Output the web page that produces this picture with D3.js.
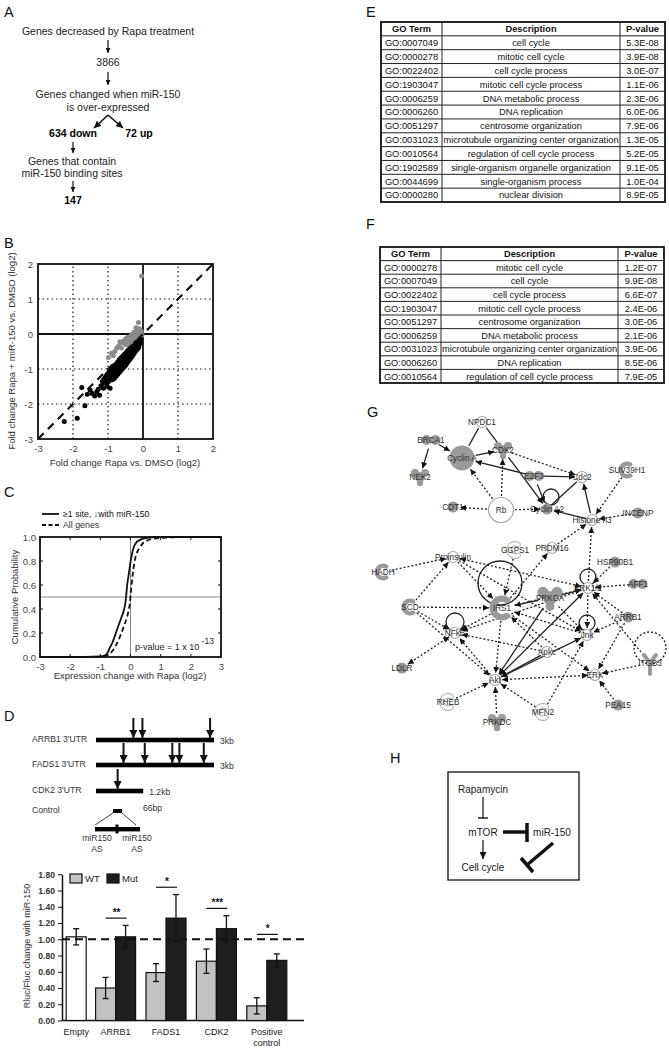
<!DOCTYPE html>
<html>
<head>
<meta charset="utf-8">
<script src="https://cdn.jsdelivr.net/npm/d3@7"></script>
<style>
  body { margin: 0; background: #fff; }
  svg { display: block; }
  text { font-family: "Liberation Sans", Arial, Helvetica, sans-serif; }
</style>
</head>
<body>
<svg id="fig" width="669" height="1050"></svg>
<script>
/*
 * Data
 */
// B: fold change Rapa vs DMSO (x) and Rapa + miR-150 vs DMSO (y), log2
var scatterBlack = [
  [-0.08,-0.14],[-0.08,-0.20],[-0.08,-0.27],
  [-0.12,-0.16],[-0.12,-0.24],[-0.12,-0.32],[-0.12,-0.38],
  [-0.16,-0.19],[-0.16,-0.27],[-0.16,-0.35],[-0.16,-0.43],
  [-0.20,-0.23],[-0.20,-0.31],[-0.20,-0.40],[-0.20,-0.48],
  [-0.24,-0.27],[-0.24,-0.36],[-0.24,-0.45],[-0.24,-0.53],
  [-0.28,-0.31],[-0.28,-0.40],[-0.28,-0.50],[-0.28,-0.59],
  [-0.32,-0.35],[-0.32,-0.45],[-0.32,-0.55],[-0.32,-0.65],
  [-0.36,-0.39],[-0.36,-0.49],[-0.36,-0.60],[-0.36,-0.71],
  [-0.40,-0.44],[-0.40,-0.54],[-0.40,-0.65],[-0.40,-0.76],
  [-0.44,-0.48],[-0.44,-0.59],[-0.44,-0.70],[-0.44,-0.81],
  [-0.48,-0.53],[-0.48,-0.64],[-0.48,-0.75],[-0.48,-0.87],
  [-0.52,-0.57],[-0.52,-0.68],[-0.52,-0.80],[-0.52,-0.92],
  [-0.56,-0.62],[-0.56,-0.73],[-0.56,-0.85],[-0.56,-0.96],
  [-0.60,-0.66],[-0.60,-0.78],[-0.60,-0.90],[-0.60,-1.01],
  [-0.64,-0.70],[-0.64,-0.83],[-0.64,-0.95],[-0.64,-1.06],
  [-0.68,-0.75],[-0.68,-0.88],[-0.68,-1.00],[-0.68,-1.10],
  [-0.72,-0.80],[-0.72,-0.92],[-0.72,-1.05],[-0.72,-1.15],
  [-0.76,-0.85],[-0.76,-0.97],[-0.76,-1.09],[-0.76,-1.19],
  [-0.80,-0.89],[-0.80,-1.02],[-0.80,-1.14],[-0.80,-1.24],
  [-0.84,-0.94],[-0.84,-1.07],[-0.84,-1.19],[-0.84,-1.28],
  [-0.88,-0.99],[-0.88,-1.12],[-0.88,-1.24],[-0.88,-1.31],
  [-0.92,-1.04],[-0.92,-1.17],[-0.92,-1.28],
  [-0.96,-1.08],[-0.96,-1.21],[-0.96,-1.33],
  [-1.00,-1.13],[-1.00,-1.26],[-1.00,-1.37],
  [-1.04,-1.18],[-1.04,-1.31],[-1.04,-1.42],
  [-1.08,-1.24],[-1.08,-1.36],
  [-1.12,-1.30],[-1.12,-1.40],
  [-1.16,-1.35],
  [-1.13,-1.55],[-0.94,-1.55],[-1.24,-1.75],[-1.32,-1.65],[-1.38,-1.77],
  [-1.51,-1.60],[-1.59,-1.72],[-1.75,-1.53],[-1.66,-2.05],[-1.88,-2.41],
  [-2.25,-2.50],[-1.20,-1.48],[-1.02,-1.50],[-1.45,-1.70],[-1.28,-1.58]
];
var scatterGrey = [
  [-0.04,1.66],[-0.13,0.33],[-0.20,0.18],[-0.10,0.15],[-0.15,0.10],
  [-0.25,0.05],[-0.05,0.08],[-0.30,0.00],[-0.20,-0.02],[-0.35,-0.05],
  [-0.45,-0.10],[-0.50,-0.15],[-0.40,-0.20],[-0.55,-0.20],[-0.60,-0.25],
  [-0.66,-0.22],[-0.70,-0.35],[-0.80,-0.50],[-0.75,-0.40],[-0.90,-0.55],
  [-0.99,-0.67],[-0.85,-0.62],[-0.30,-0.15],[-0.12,-0.05],[-0.25,-0.10],
  [-0.50,-0.30],[-0.62,-0.40],[-0.45,-0.30],[-0.35,-0.25],[-0.18,-0.10],
  [-0.08,0.02],[-0.03,-0.03]
];

// C: cumulative distributions [expression change, probability]
var cdfSite = [
  [-3,0],[-1.5,0],[-1.0,0.004],[-0.85,0.012],[-0.75,0.04],[-0.68,0.08],
  [-0.6,0.12],[-0.5,0.19],[-0.4,0.26],[-0.3,0.33],[-0.22,0.39],[-0.17,0.45],
  [-0.14,0.52],[-0.11,0.6],[-0.07,0.67],[-0.03,0.74],[0,0.79],[0.05,0.86],
  [0.1,0.91],[0.18,0.95],[0.3,0.975],[0.5,0.99],[0.85,1],[3,1]
];
var cdfAll = [
  [-3,0],[-1.2,0],[-0.85,0.006],[-0.7,0.025],[-0.6,0.05],[-0.5,0.09],
  [-0.4,0.14],[-0.3,0.2],[-0.2,0.27],[-0.12,0.33],[-0.06,0.39],[-0.02,0.45],
  [0.01,0.53],[0.04,0.61],[0.08,0.7],[0.13,0.79],[0.2,0.86],[0.3,0.91],
  [0.42,0.95],[0.6,0.975],[0.9,0.99],[1.4,0.997],[1.9,1],[3,1]
];

// D: 3'UTR constructs (kb) and miR-150 sites
var utrNames = ["ARRB1 3'UTR", "FADS1 3'UTR", "CDK2 3'UTR"];
var utrLengths = [3, 3, 1.2];
var utrLengthLabels = ["3kb", "3kb", "1.2kb"];
var utrSites = [[0.95, 1.18, 2.9], [0.7, 1.24, 1.94, 2.12, 2.74], [0.55]];

// D: luciferase assay
var barGroups = ["Empty", "ARRB1", "FADS1", "CDK2", "Positive control"];
var wtValues = [null, 0.40, 0.59, 0.73, 0.18];
var wtErrors = [null, 0.13, 0.11, 0.15, 0.10];
var mutValues = [1.03, 1.03, 1.26, 1.13, 0.74];
var mutErrors = [0.10, 0.14, 0.29, 0.16, 0.08];
var sigStars = [null, "**", "*", "***", "*"];
var sigLevels = [null, 1.26, 1.64, 1.38, 1.06];
var barTicks = [0, 0.2, 0.4, 0.6, 0.8, 1.0, 1.2, 1.4, 1.6, 1.8];

// E / F: GO enrichment
var tableHeader = ["GO Term", "Description", "P-value"];
var tableE = [
  ["GO:0007049", "cell cycle", "5.3E-08"],
  ["GO:0000278", "mitotic cell cycle", "3.9E-08"],
  ["GO:0022402", "cell cycle process", "3.0E-07"],
  ["GO:1903047", "mitotic cell cycle process", "1.1E-06"],
  ["GO:0006259", "DNA metabolic process", "2.3E-06"],
  ["GO:0006260", "DNA replication", "6.0E-06"],
  ["GO:0051297", "centrosome organization", "7.9E-06"],
  ["GO:0031023", "microtubule organizing center organization", "1.3E-05"],
  ["GO:0010564", "regulation of cell cycle process", "5.2E-05"],
  ["GO:1902589", "single-organism organelle organization", "9.1E-05"],
  ["GO:0044699", "single-organism process", "1.0E-04"],
  ["GO:0000280", "nuclear division", "8.9E-05"]
];
var tableF = [
  ["GO:0000278", "mitotic cell cycle", "1.2E-07"],
  ["GO:0007049", "cell cycle", "9.9E-08"],
  ["GO:0022402", "cell cycle process", "6.6E-07"],
  ["GO:1903047", "mitotic cell cycle process", "2.4E-06"],
  ["GO:0051297", "centrosome organization", "3.0E-06"],
  ["GO:0006259", "DNA metabolic process", "2.1E-06"],
  ["GO:0031023", "microtubule organizing center organization", "3.9E-06"],
  ["GO:0006260", "DNA replication", "8.5E-06"],
  ["GO:0010564", "regulation of cell cycle process", "7.9E-05"]
];

// G: network (layout units of the panel)
var netNodes = [
  {id: "NPDC1", x: 152, y: 32, shape: "open"},
  {id: "BRCA1", x: 101, y: 50, shape: "dimer"},
  {id: "Cyclin A", x: 132, y: 68, shape: "big"},
  {id: "CDK2", x: 173, y: 60, shape: "trimer"},
  {id: "NEK2", x: 90, y: 87, shape: "trimer"},
  {id: "E2F3", x: 204, y: 86, shape: "dimer"},
  {id: "Cdc2", x: 252, y: 87, shape: "open"},
  {id: "SUV39H1", x: 297, y: 80, shape: "crescent"},
  {id: "CDT1", x: 123, y: 117, shape: "circle"},
  {id: "Rb", x: 171, y: 120, shape: "bigopen"},
  {id: "Cyclin A2", x: 217, y: 119, shape: "circle"},
  {id: "Histone h3", x: 262, y: 130, shape: "open"},
  {id: "INCENP", x: 308, y: 123, shape: "circle"},
  {id: "GGPS1", x: 185, y: 160, shape: "crescentOpen"},
  {id: "PRDM16", x: 222, y: 158, shape: "open"},
  {id: "HSP90B1", x: 285, y: 172, shape: "circle"},
  {id: "Proinsulin", x: 123, y: 167, shape: "open"},
  {id: "HADH", x: 53, y: 182, shape: "crescent"},
  {id: "ERK1/2", x: 258, y: 198, shape: "open"},
  {id: "AFF1", x: 308, y: 194, shape: "dimer"},
  {id: "PRKCA", x: 220, y: 208, shape: "trimerBig"},
  {id: "IRS1", x: 172, y: 218, shape: "crescentBig"},
  {id: "SCD", x: 80, y: 217, shape: "crescent"},
  {id: "ARRB1", x: 298, y: 227, shape: "circle"},
  {id: "NFkB", x: 125, y: 243, shape: "open"},
  {id: "Jnk", x: 257, y: 245, shape: "open"},
  {id: "Apkc", x: 217, y: 262, shape: "open"},
  {id: "LDLR", x: 72, y: 278, shape: "circle"},
  {id: "ITGB3", x: 320, y: 273, shape: "Y"},
  {id: "Akt", x: 165, y: 290, shape: "open"},
  {id: "ERK", x: 265, y: 285, shape: "open"},
  {id: "RHEB", x: 118, y: 312, shape: "crescentOpen"},
  {id: "PRKDC", x: 167, y: 332, shape: "trimer"},
  {id: "MFN2", x: 213, y: 322, shape: "crescentOpen"},
  {id: "PEA15", x: 288, y: 315, shape: "circle"}
];
// type: s solid arrow, sl solid line, s2 solid both ways, d dotted arrow, dd dotted both ways
var netEdges = [
  ["NPDC1", "Cyclin A", "sl"], ["NPDC1", "CDK2", "sl"],
  ["BRCA1", "Cyclin A", "s"], ["BRCA1", "NEK2", "s"],
  ["Cyclin A", "CDK2", "s"], ["E2F3", "Cyclin A", "s"],
  ["E2F3", "Cdc2", "s"], ["E2F3", "Cyclin A2", "s"],
  ["CDK2", "Cyclin A2", "s"], ["Cyclin A2", "Cdc2", "sl"],
  ["Histone h3", "Cdc2", "s"], ["Histone h3", "Cyclin A2", "s"],
  ["CDK2", "Cdc2", "d"], ["Rb", "Cyclin A", "d"], ["Rb", "CDK2", "d"],
  ["Rb", "CDT1", "d"], ["Rb", "Cyclin A2", "d"],
  ["SUV39H1", "Histone h3", "d"], ["INCENP", "Histone h3", "d"],
  ["PRDM16", "Histone h3", "d"], ["ERK1/2", "Histone h3", "d"],
  ["GGPS1", "IRS1", "d"], ["IRS1", "PRDM16", "d"],
  ["HADH", "Proinsulin", "d"], ["Proinsulin", "IRS1", "d"],
  ["Proinsulin", "ERK1/2", "dd"], ["SCD", "Proinsulin", "d"],
  ["SCD", "IRS1", "d"], ["SCD", "NFkB", "d"], ["SCD", "Akt", "d"],
  ["PRKCA", "IRS1", "s"], ["PRKCA", "ERK1/2", "s"], ["PRKCA", "Akt", "s"],
  ["IRS1", "ERK1/2", "d"], ["IRS1", "NFkB", "d"], ["IRS1", "Akt", "d"],
  ["NFkB", "LDLR", "dd"], ["HSP90B1", "ERK1/2", "d"], ["AFF1", "ERK1/2", "d"],
  ["ARRB1", "ERK1/2", "d"], ["ARRB1", "Jnk", "d"], ["ARRB1", "ERK", "d"],
  ["Akt", "ERK1/2", "s2"], ["Akt", "Jnk", "s2"], ["Apkc", "Akt", "s"],
  ["ERK", "Akt", "dd"], ["ITGB3", "ERK", "d"], ["ITGB3", "ERK1/2", "d"],
  ["PEA15", "ERK", "d"], ["MFN2", "Akt", "d"], ["MFN2", "Jnk", "d"],
  ["RHEB", "Akt", "d"], ["PRKDC", "Akt", "d"], ["Apkc", "IRS1", "d"],
  ["Jnk", "IRS1", "d"], ["ERK1/2", "NFkB", "d"], ["PRKCA", "Jnk", "d"],
  ["IRS1", "ERK", "d"], ["Proinsulin", "Jnk", "d"], ["ERK1/2", "Jnk", "d"],
  ["Akt", "NFkB", "d"], ["Apkc", "NFkB", "d"]
];
// self loops: node, centre offset, radius, type
var netLoops = [
  ["Cyclin A2", 4, -12, 8, "s"], ["IRS1", -2, -25, 22, "s"],
  ["NFkB", 0, -11, 9, "s"], ["ERK1/2", 0, -11, 8, "s"],
  ["Jnk", 0, -12, 8, "s"], ["ITGB3", 0, -15, 16, "d"]
];

/*
 * SVG Helpers
 */
var translate = function(x, y) {
  return "translate(" + x + ", " + y + ") ";
};

var svg = d3.select('#fig');
svg.append('rect').attr('width', 669).attr('height', 1050).attr('fill', '#fff');
var defs = svg.append('defs');

var addMarker = function(id, size) {
  defs.append('marker')
    .attr('id', id)
    .attr('viewBox', '0 -5 10 10')
    .attr('refX', 10).attr('refY', 0)
    .attr('markerWidth', size).attr('markerHeight', size)
    .attr('markerUnits', 'userSpaceOnUse')
    .attr('orient', 'auto-start-reverse')
    .append('path').attr('d', 'M0,-5L10,0L0,5Z').attr('fill', '#111');
};
addMarker('headA', 5);
addMarker('headA2', 7);
addMarker('headD', 8);
addMarker('headG', 6);
addMarker('headH', 7);

var addText = function(g, x, y, s, size, opts) {
  opts = opts || {};
  return g.append('text')
    .attr('x', x).attr('y', y)
    .attr('text-anchor', opts.anchor || 'middle')
    .style('font-size', size + 'px')
    .style('font-weight', opts.weight || 'normal')
    .attr('fill', opts.fill || '#222')
    .text(s);
};

var panelLetter = function(s, x, y) {
  addText(svg, x, y, s, 14.5, {anchor: 'start', fill: '#111'});
};

var line = function(g, x1, y1, x2, y2, w, color) {
  return g.append('line')
    .attr('x1', x1).attr('y1', y1).attr('x2', x2).attr('y2', y2)
    .attr('stroke', color || '#111').attr('stroke-width', w);
};

/*
 * A: flow chart
 */
var gA = svg.append('g');
panelLetter('A', 4, 17);
addText(gA, 108, 35, 'Genes decreased by Rapa treatment', 10.5);
line(gA, 108, 40, 108, 53, 1.2).attr('marker-end', 'url(#headA)');
addText(gA, 108, 66, '3866', 10.5);
line(gA, 108, 72, 108, 85, 1.2).attr('marker-end', 'url(#headA)');
addText(gA, 108, 98, 'Genes changed when miR-150', 10.5);
addText(gA, 108, 111, 'is over-expressed', 10.5);
line(gA, 108, 115, 94, 128, 1.6).attr('marker-end', 'url(#headA2)');
line(gA, 108, 115, 123, 128, 1.6).attr('marker-end', 'url(#headA2)');
addText(gA, 73, 137, '634 down', 10.5, {weight: 'bold', fill: '#000'});
addText(gA, 139, 137, '72 up', 10.5, {weight: 'bold', fill: '#000'});
line(gA, 73, 142, 73, 153, 1.2).attr('marker-end', 'url(#headA)');
addText(gA, 72, 165, 'Genes that contain', 10.5);
addText(gA, 72, 177, 'miR-150 binding sites', 10.5);
line(gA, 73, 181, 73, 192, 1.2).attr('marker-end', 'url(#headA)');
addText(gA, 73, 204, '147', 10.5, {weight: 'bold', fill: '#000'});

/*
 * B: scatter
 */
panelLetter('B', 4, 248);
var gB = svg.append('g');
var bx = d3.scaleLinear().domain([-3, 2]).range([38, 213]);
var by = d3.scaleLinear().domain([-3, 2]).range([439, 264]);
var bTicks = bx.ticks(5);

gB.selectAll('.gridx').data(bTicks.filter(function(d) { return d !== 0 && d > -3 && d < 2; }))
  .enter().append('line')
  .attr('x1', function(d) { return bx(d); }).attr('x2', function(d) { return bx(d); })
  .attr('y1', by(-3)).attr('y2', by(2))
  .attr('stroke', '#111').attr('stroke-width', 1.2).attr('stroke-dasharray', '1.5,3');
gB.selectAll('.gridy').data(bTicks.filter(function(d) { return d !== 0 && d > -3 && d < 2; }))
  .enter().append('line')
  .attr('y1', function(d) { return by(d); }).attr('y2', function(d) { return by(d); })
  .attr('x1', bx(-3)).attr('x2', bx(2))
  .attr('stroke', '#111').attr('stroke-width', 1.2).attr('stroke-dasharray', '1.5,3');
line(gB, bx(0), by(-3), bx(0), by(2), 1.8);
line(gB, bx(-3), by(0), bx(2), by(0), 1.8);

gB.selectAll('.pb').data(scatterBlack).enter().append('circle')
  .attr('cx', function(d) { return bx(d[0]); })
  .attr('cy', function(d) { return by(d[1]); })
  .attr('r', 2.5).attr('fill', '#000');
gB.selectAll('.pg').data(scatterGrey).enter().append('circle')
  .attr('cx', function(d) { return bx(d[0]); })
  .attr('cy', function(d) { return by(d[1]); })
  .attr('r', 2.5).attr('fill', '#8a8a8a');

line(gB, bx(-3), by(-3), bx(2), by(2), 2.2).attr('stroke-dasharray', '8,6');
gB.append('rect').attr('x', bx(-3)).attr('y', by(2))
  .attr('width', bx(2) - bx(-3)).attr('height', by(-3) - by(2))
  .attr('fill', 'none').attr('stroke', '#111').attr('stroke-width', 1.8);

var bxAxis = gB.append('g').attr('transform', translate(0, by(-3)))
  .call(d3.axisBottom(bx).ticks(5).tickSize(0).tickPadding(6).tickFormat(function(d) { return String(d); }));
var byAxis = gB.append('g').attr('transform', translate(bx(-3), 0))
  .call(d3.axisLeft(by).ticks(5).tickSize(0).tickPadding(5).tickFormat(function(d) { return String(d); }));
[bxAxis, byAxis].forEach(function(a) {
  a.select('.domain').remove();
  a.selectAll('text').style('font-size', '9.5px').attr('fill', '#444')
    .style('font-family', '"Liberation Sans", Arial, sans-serif');
});
addText(gB, 125, 466, 'Fold change Rapa vs. DMSO (log2)', 9.5, {fill: '#333'});
addText(gB, 0, 0, 'Fold change Rapa + miR-150 vs. DMSO (log2)', 9.5, {fill: '#333'})
  .attr('transform', translate(15, 351) + 'rotate(-90)');

/*
 * C: cumulative distribution
 */
panelLetter('C', 4, 497);
var gC = svg.append('g');
var cx = d3.scaleLinear().domain([-3, 3]).range([40, 221]);
var cy = d3.scaleLinear().domain([0, 1]).range([657, 537]);

line(gC, 42, 514, 59, 514, 1.8);
addText(gC, 63, 517, '\u22651 site, \u2193with miR-150', 8.8, {anchor: 'start', fill: '#111'});
line(gC, 42, 525, 59, 525, 1.8).attr('stroke-dasharray', '4,2.5');
addText(gC, 63, 528, 'All genes', 8.8, {anchor: 'start', fill: '#333'});

line(gC, cx(0), cy(0), cx(0), cy(1), 1).attr('stroke', '#888');
line(gC, cx(-3), cy(0.5), cx(3), cy(0.5), 1).attr('stroke', '#888');

var cdfLine = d3.line()
  .x(function(d) { return cx(d[0]); })
  .y(function(d) { return cy(d[1]); })
  .curve(d3.curveMonotoneX);
gC.append('path').datum(cdfAll).attr('d', cdfLine)
  .attr('fill', 'none').attr('stroke', '#111').attr('stroke-width', 1.8).attr('stroke-dasharray', '5,3');
gC.append('path').datum(cdfSite).attr('d', cdfLine)
  .attr('fill', 'none').attr('stroke', '#111').attr('stroke-width', 1.8);

gC.append('rect').attr('x', cx(-3)).attr('y', cy(1))
  .attr('width', cx(3) - cx(-3)).attr('height', cy(0) - cy(1))
  .attr('fill', 'none').attr('stroke', '#111').attr('stroke-width', 1.8);

var cxTicks = cx.ticks(6), cyTicks = cy.ticks(5);
cxTicks.forEach(function(t) {
  line(gC, cx(t), cy(1), cx(t), cy(1) + 3, 1);
  line(gC, cx(t), cy(0), cx(t), cy(0) - 3, 1);
});
cyTicks.forEach(function(t) {
  line(gC, cx(-3), cy(t), cx(-3) + 3, cy(t), 1);
  line(gC, cx(3), cy(t), cx(3) - 3, cy(t), 1);
});
var cxAxis = gC.append('g').attr('transform', translate(0, cy(0)))
  .call(d3.axisBottom(cx).ticks(6).tickSize(0).tickPadding(6).tickFormat(function(d) { return String(d); }));
var cyAxis = gC.append('g').attr('transform', translate(cx(-3), 0))
  .call(d3.axisLeft(cy).ticks(5).tickSize(0).tickPadding(4).tickFormat(d3.format('.1f')));
[cxAxis, cyAxis].forEach(function(a) {
  a.select('.domain').remove();
  a.selectAll('text').style('font-size', '9.5px').attr('fill', '#444')
    .style('font-family', '"Liberation Sans", Arial, sans-serif');
});
addText(gC, 130, 679, 'Expression change with Rapa (log2)', 9.5, {fill: '#333'});
addText(gC, 0, 0, 'Cumulative Probability', 9.5, {fill: '#333'})
  .attr('transform', translate(18, 597) + 'rotate(-90)');
var pv = addText(gC, 135, 650, 'p-value = 1 x 10', 9, {anchor: 'start', fill: '#222'});
pv.append('tspan').attr('dy', -6).style('font-size', '8.5px').text(' -13');

/*
 * D: constructs and luciferase bars
 */
panelLetter('D', 4, 721);
var gD = svg.append('g');
var kb = d3.scaleLinear().domain([0, 3]).range([96, 214]);
var utrY = [740, 765, 791];
utrNames.forEach(function(name, i) {
  addText(gD, 32, utrY[i] + 2, name, 8.6, {anchor: 'start', fill: '#333'});
  gD.append('rect').attr('x', kb(0)).attr('y', utrY[i] - 2.3)
    .attr('width', kb(utrLengths[i]) - kb(0)).attr('height', 4.6).attr('fill', '#000');
  addText(gD, kb(utrLengths[i]) + 6, utrY[i] + 4, utrLengthLabels[i], 8.6, {anchor: 'start', fill: '#333'});
  utrSites[i].forEach(function(s) {
    line(gD, kb(s), utrY[i] - 22, kb(s), utrY[i] - 2, 2).attr('marker-end', 'url(#headD)');
  });
});
addText(gD, 32, 813, 'Control', 8.6, {anchor: 'start', fill: '#333'});
gD.append('rect').attr('x', 113).attr('y', 809).attr('width', 9).attr('height', 4).attr('fill', '#000');
addText(gD, 143, 811, '66bp', 8.6, {anchor: 'start', fill: '#333'});
line(gD, 113, 813, 95, 825, 0.8);
line(gD, 122, 813, 136, 825, 0.8);
gD.append('rect').attr('x', 95).attr('y', 827).attr('width', 45).attr('height', 4.4).attr('fill', '#000');
gD.append('rect').attr('x', 115.5).attr('y', 824.5).attr('width', 3).attr('height', 9).attr('fill', '#000');
addText(gD, 97, 841, 'miR150', 8.6, {fill: '#333'});
addText(gD, 97, 852, 'AS', 8.6, {fill: '#333'});
addText(gD, 137, 841, 'miR150', 8.6, {fill: '#333'});
addText(gD, 137, 852, 'AS', 8.6, {fill: '#333'});

var yb = d3.scaleLinear().domain([0, 1.8]).range([1020.5, 874.25]);
var xb = d3.scaleBand().domain(barGroups).range([40, 292]);
var barW = 20;
var barCenter = function(i) { return xb(barGroups[i]) + xb.bandwidth() / 2; };

var ybAxis = gD.append('g').attr('transform', translate(62, 0))
  .call(d3.axisLeft(yb).tickValues(barTicks).tickSize(4).tickSizeOuter(0).tickPadding(3).tickFormat(d3.format('.2f')));
ybAxis.select('.domain').attr('stroke', '#111').attr('stroke-width', 1.5);
ybAxis.selectAll('.tick line').attr('stroke', '#111');
ybAxis.selectAll('text').style('font-size', '8.6px').style('font-weight', 'bold').attr('fill', '#333')
  .style('font-family', '"Liberation Sans", Arial, sans-serif');
line(gD, 62, yb(0), 304, yb(0), 1.5);

barGroups.forEach(function(name, i) {
  var c = barCenter(i);
  var drawBar = function(x0, v, e, fill) {
    gD.append('rect').attr('x', x0).attr('y', yb(v))
      .attr('width', barW).attr('height', yb(0) - yb(v))
      .attr('fill', fill).attr('stroke', '#111').attr('stroke-width', 1.2);
    var xm = x0 + barW / 2;
    line(gD, xm, yb(v - e), xm, yb(v + e), 1.3);
    line(gD, xm - 3, yb(v - e), xm + 3, yb(v - e), 1.3);
    line(gD, xm - 3, yb(v + e), xm + 3, yb(v + e), 1.3);
  };
  if (wtValues[i] === null) {
    drawBar(c + 1, mutValues[i], mutErrors[i], '#fff');
  } else {
    drawBar(c - barW, wtValues[i], wtErrors[i], '#c2c2c2');
    drawBar(c, mutValues[i], mutErrors[i], '#1e1e1e');
  }
});
line(gD, 62, yb(1), 305, yb(1), 2).attr('stroke-dasharray', '8,5');

barGroups.forEach(function(name, i) {
  var c = barCenter(i);
  if (sigStars[i]) {
    line(gD, c - 10, yb(sigLevels[i]), c + 11, yb(sigLevels[i]), 1.2);
    addText(gD, c + 1, yb(sigLevels[i]) - 2, sigStars[i], 10, {weight: 'bold', fill: '#111'});
  }
  var labelX = wtValues[i] === null ? c + 1 + barW / 2 : c;
  var parts = name === 'Positive control' ? ['Positive', 'control'] : [name];
  parts.forEach(function(p, j) {
    addText(gD, labelX, 1035 + j * 10.5, p, 9, {fill: '#222'});
  });
});
gD.append('rect').attr('x', 70).attr('y', 874).attr('width', 12).attr('height', 9)
  .attr('fill', '#c2c2c2').attr('stroke', '#111').attr('stroke-width', 1.2);
addText(gD, 85, 882, 'WT', 9.5, {anchor: 'start', fill: '#222'});
gD.append('rect').attr('x', 107).attr('y', 874).attr('width', 12).attr('height', 9)
  .attr('fill', '#1e1e1e').attr('stroke', '#111').attr('stroke-width', 1.2);
addText(gD, 122, 882, 'Mut', 9.5, {anchor: 'start', fill: '#222'});
addText(gD, 0, 0, 'Rluc/Fluc change with miR-150', 9, {fill: '#333'})
  .attr('transform', translate(30, 946) + 'rotate(-90)');

/*
 * E, F: GO tables
 */
var drawTable = function(rows, cols, top, bottom) {
  var g = svg.append('g');
  var all = [tableHeader].concat(rows);
  var rowY = d3.scaleLinear().domain([0, all.length]).range([top, bottom]);
  all.forEach(function(r, i) {
    if (i > 0) line(g, cols[0], rowY(i), cols[3], rowY(i), 1, '#222');
    r.forEach(function(cell, j) {
      addText(g, (cols[j] + cols[j + 1]) / 2, rowY(i + 0.5) + 3.4, cell, 9.3,
        {weight: i === 0 ? 'bold' : 'normal', fill: '#111'});
    });
  });
  [1, 2].forEach(function(j) { line(g, cols[j], top, cols[j], bottom, 1, '#222'); });
  g.append('rect').attr('x', cols[0]).attr('y', top)
    .attr('width', cols[3] - cols[0]).attr('height', bottom - top)
    .attr('fill', 'none').attr('stroke', '#111').attr('stroke-width', 1.8);
};
panelLetter('E', 366, 17);
drawTable(tableE, [381, 442, 620, 665], 22, 202);
panelLetter('F', 366, 229);
drawTable(tableF, [380, 441, 618, 664], 247, 383);

/*
 * G: network
 */
panelLetter('G', 367, 417);
var gG = svg.append('g');
var gx = d3.scaleLinear().domain([0, 339]).range([330, 669]);
var gy = d3.scaleLinear().domain([0, 340]).range([390, 730]);
var nodeById = {};
netNodes.forEach(function(n) { nodeById[n.id] = n; });
var nodeRadius = {circle: 6, open: 6, big: 13, bigopen: 13, dimer: 8, trimer: 8,
  trimerBig: 11, crescent: 8, crescentOpen: 8, crescentBig: 12, Y: 9};

netLoops.forEach(function(l) {
  var n = nodeById[l[0]];
  gG.append('circle').attr('cx', gx(n.x + l[1])).attr('cy', gy(n.y + l[2])).attr('r', l[3])
    .attr('fill', 'none').attr('stroke', '#222').attr('stroke-width', 1.3)
    .attr('stroke-dasharray', l[4] === 'd' ? '2,2' : null);
});

netEdges.forEach(function(e) {
  var a = nodeById[e[0]], b = nodeById[e[1]];
  var x1 = gx(a.x), y1 = gy(a.y), x2 = gx(b.x), y2 = gy(b.y);
  var len = Math.sqrt((x2 - x1) * (x2 - x1) + (y2 - y1) * (y2 - y1));
  var ux = (x2 - x1) / len, uy = (y2 - y1) / len;
  var ra = nodeRadius[a.shape] + 1, rb = nodeRadius[b.shape] + 1;
  var l = line(gG, x1 + ux * ra, y1 + uy * ra, x2 - ux * rb, y2 - uy * rb, 1.3, '#222');
  if (e[2].charAt(0) === 'd') l.attr('stroke-dasharray', '2,2');
  if (e[2] !== 'sl') l.attr('marker-end', 'url(#headG)');
  if (e[2] === 'dd' || e[2] === 's2') l.attr('marker-start', 'url(#headG)');
});

var crescentArc = function(ri, ro) {
  return d3.arc().innerRadius(ri).outerRadius(ro)
    .startAngle(Math.PI / 2 + 0.7).endAngle(Math.PI * 2.5 - 0.7).cornerRadius(2)();
};
var nodeGrey = '#9a9a9a';
netNodes.forEach(function(n) {
  var g = gG.append('g').attr('transform', translate(gx(n.x), gy(n.y)));
  switch (n.shape) {
    case 'circle':
      g.append('circle').attr('r', 5.5).attr('fill', nodeGrey);
      break;
    case 'open':
      g.append('circle').attr('r', 5.5).attr('fill', '#fff').attr('stroke', '#a5a5a5').attr('stroke-width', 1.2);
      break;
    case 'big':
      g.append('circle').attr('r', 12.5).attr('fill', nodeGrey);
      break;
    case 'bigopen':
      g.append('circle').attr('r', 12.5).attr('fill', '#fff').attr('stroke', '#a5a5a5').attr('stroke-width', 1.2);
      break;
    case 'dimer':
      g.append('circle').attr('cx', -4.5).attr('r', 5).attr('fill', nodeGrey);
      g.append('circle').attr('cx', 4.5).attr('r', 5).attr('fill', nodeGrey);
      break;
    case 'trimer':
    case 'trimerBig':
      var k = n.shape === 'trimer' ? 1 : 1.4;
      g.append('circle').attr('cx', -5 * k).attr('cy', -4 * k).attr('r', 4 * k).attr('fill', nodeGrey);
      g.append('circle').attr('cx', 5 * k).attr('cy', -4 * k).attr('r', 4 * k).attr('fill', nodeGrey);
      g.append('circle').attr('cx', 0).attr('cy', 0).attr('r', 5 * k).attr('fill', nodeGrey);
      g.append('circle').attr('cx', 0).attr('cy', 6 * k).attr('r', 3.2 * k).attr('fill', nodeGrey);
      break;
    case 'crescent':
      g.append('path').attr('d', crescentArc(4, 8.5)).attr('fill', nodeGrey);
      break;
    case 'crescentOpen':
      g.append('path').attr('d', crescentArc(4, 8.5)).attr('fill', '#fff').attr('stroke', '#a5a5a5');
      break;
    case 'crescentBig':
      g.append('path').attr('d', crescentArc(6, 12.5)).attr('fill', nodeGrey);
      break;
    case 'Y':
      g.append('path').attr('d', 'M0,11L0,0L-6,-8M0,0L6,-8')
        .attr('fill', 'none').attr('stroke', nodeGrey).attr('stroke-width', 4).attr('stroke-linecap', 'round');
      break;
  }
});
netNodes.forEach(function(n) {
  addText(gG, gx(n.x), gy(n.y) + 3, n.id, 8.2, {fill: '#2a2a2a'});
});

/*
 * H: model
 */
panelLetter('H', 390, 763);
var gH = svg.append('g');
gH.append('rect').attr('x', 448).attr('y', 772).attr('width', 131).attr('height', 108)
  .attr('fill', 'none').attr('stroke', '#111').attr('stroke-width', 1.3);
addText(gH, 483, 793, 'Rapamycin', 10, {fill: '#222'});
line(gH, 483, 797, 483, 818, 1.2);
line(gH, 478, 818, 488, 818, 1.4);
addText(gH, 483, 836, 'mTOR', 10, {fill: '#222'});
line(gH, 503, 832, 526, 832, 3.5);
line(gH, 527, 823, 527, 842, 3.5);
addText(gH, 552, 836, 'miR-150', 10, {fill: '#222'});
line(gH, 483, 840, 483, 859, 1.2).attr('marker-end', 'url(#headH)');
addText(gH, 483, 871, 'Cell cycle', 10, {fill: '#222'});
line(gH, 553, 843, 527, 865, 3.5);
line(gH, 521, 858, 533, 872, 3.5);
</script>
</body>
</html>
